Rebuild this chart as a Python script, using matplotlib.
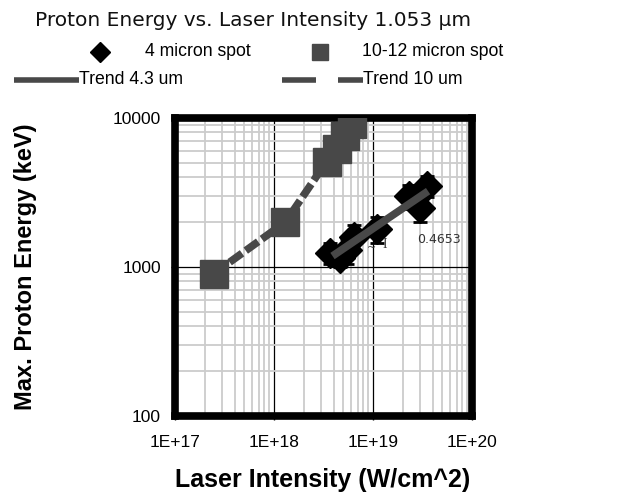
import matplotlib
matplotlib.use("Agg")
import matplotlib.pyplot as plt
from matplotlib.lines import Line2D
import numpy as np

# ---- data ----
spot4_x = [3.7e18, 4.6e18, 5.4e18, 6.4e18, 1.1e19, 2.3e19, 3.0e19, 3.5e19]
spot4_y = [1250, 1150, 1300, 1600, 1800, 3000, 2500, 3500]
spot4_err = [200, 150, 250, 300, 350, 550, 500, 550]

spot10_x = [2.45e17, 1.3e18, 3.4e18, 4.3e18, 5.2e18, 6.1e18]
spot10_y = [900, 2000, 5100, 6200, 7600, 9100]

trend43_x = [3.9e18, 3.6e19]
trend43_y = [1185, 3230]

fit_label = "0.4653"

x_ticks = [1e17, 1e18, 1e19, 1e20]
x_ticklabels = ["1E+17", "1E+18", "1E+19", "1E+20"]
y_ticks = [100, 1000, 10000]
y_ticklabels = ["100", "1000", "10000"]

W, H = 620, 496
fig = plt.figure(figsize=(W / 100, H / 100), dpi=100)
ax = fig.add_axes([175 / W, 1 - 416 / H, 297 / W, 298 / H])
ax.set_xscale("log")
ax.set_yscale("log")
ax.set_xlim(1e17, 1e20)
ax.set_ylim(100, 10000)

grey = "#484848"
# grid
ax.grid(True, which="minor", color="#cccccc", linewidth=1.3, zorder=0)
ax.grid(True, which="major", color="black", linewidth=0.9, zorder=0.5)
ax.set_axisbelow(True)

# trend 10 um (dashed through squares)
ax.plot(spot10_x, spot10_y, color=grey, linewidth=5.5, linestyle=(0, (2.0, 0.6)),
        zorder=2)
ax.plot(spot10_x, spot10_y, linestyle="none", marker="s", markersize=20,
        color=grey, zorder=3)

# 4 micron spot
ax.errorbar(spot4_x, spot4_y, yerr=spot4_err, fmt="D", color="black",
            markersize=15, ecolor="black", elinewidth=1.5, capsize=5,
            capthick=2, zorder=4)
ax.plot(trend43_x, trend43_y, color=grey, linewidth=5.5, zorder=5,
        solid_capstyle="butt")

ax.text(10 ** 19.45, 1520, fit_label, fontsize=9, color="#333333",
        family="DejaVu Sans", va="center", ha="left", zorder=6)
ax.text(10 ** 19.12, 1420, "I", fontsize=10, color="#333333",
        family="Liberation Serif", va="center", ha="center", zorder=6)
ax.text(10 ** 18.98, 1340, "~", fontsize=8, color="#333333",
        va="center", ha="center", zorder=6)

for s in ax.spines.values():
    s.set_linewidth(5.5)
    s.set_color("black")

ax.set_xticks(x_ticks)
ax.set_xticklabels(x_ticklabels)
ax.set_yticks(y_ticks)
ax.set_yticklabels(y_ticklabels)
ax.tick_params(which="major", length=3, width=1, labelsize=12.5, pad=7)
ax.tick_params(axis="x", which="major", pad=11)
ax.tick_params(which="minor", length=0)
for lab in ax.get_xticklabels() + ax.get_yticklabels():
    lab.set_family("Liberation Sans")

fig.text(323 / W, 1 - 480 / H, "Laser Intensity (W/cm^2)", fontsize=18,
         fontweight="bold", family="Liberation Sans", ha="center", va="center")
fig.text(26 / W, 1 - 267 / H, "Max. Proton Energy (keV)", fontsize=17,
         fontweight="bold", family="Liberation Sans", rotation=90,
         ha="center", va="center")

# title
fig.text(253 / W, 1 - 21 / H, "Proton Energy vs. Laser Intensity 1.053 \u03bcm",
         fontsize=14.5, family="DejaVu Sans", ha="center", va="center",
         color="#111111")

# legend (manual, figure pixel coordinates)
ov = fig.add_axes([0, 0, 1, 1], facecolor="none")
ov.set_xlim(0, W)
ov.set_ylim(H, 0)
ov.axis("off")
ov.plot([100], [52], marker="D", markersize=10, color="black")
ov.text(145, 52, "4 micron spot", fontsize=12.7, family="Liberation Sans",
        va="center", ha="left")
ov.plot([320], [52], marker="s", markersize=11, color=grey)
ov.text(362, 52, "10-12 micron spot", fontsize=12.7, family="Liberation Sans",
        va="center", ha="left")
ov.plot([14, 79], [80, 80], color=grey, linewidth=4, solid_capstyle="butt")
ov.text(79, 80, "Trend 4.3 um", fontsize=12.7, family="Liberation Sans",
        va="center", ha="left")
ov.plot([282, 316], [80, 80], color=grey, linewidth=4, solid_capstyle="butt")
ov.plot([338, 363], [80, 80], color=grey, linewidth=4, solid_capstyle="butt")
ov.text(363, 80, "Trend 10 um", fontsize=12.7, family="Liberation Sans",
        va="center", ha="left")

fig.savefig("out.png", dpi=100)
